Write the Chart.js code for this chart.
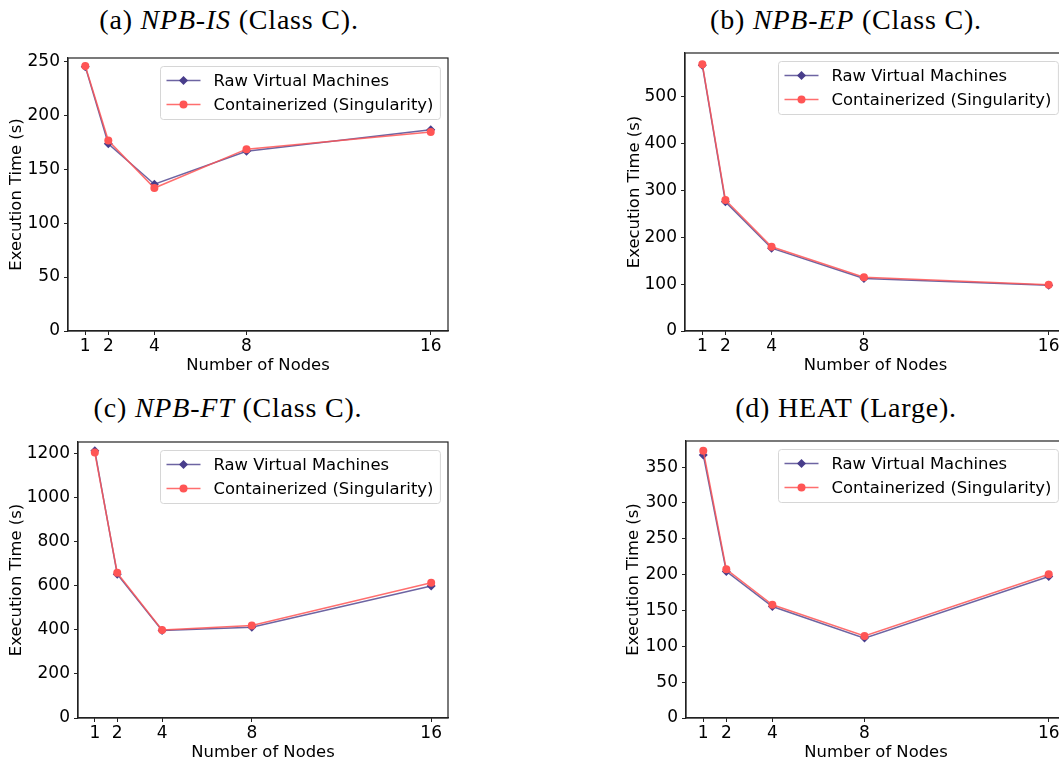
<!DOCTYPE html>
<html lang="en">
<head>
  <meta charset="UTF-8" />
  <title>Execution time: raw VMs vs Singularity</title>
  <script src="https://cdn.jsdelivr.net/npm/chart.js"></script>
  <style>
    html, body { margin: 0; padding: 0; background: #fff; }
    body { width: 1059px; height: 762px; position: relative; overflow: hidden; }
    .title {
      position: absolute; width: 420px; text-align: center;
      font-family: "Liberation Serif", "DejaVu Serif", serif;
      font-size: 28px; letter-spacing: 0.8px; line-height: 28px; color: #000; white-space: nowrap;
    }
    canvas { position: absolute; }
  </style>
</head>
<body>

  <!-- Panel titles -->
  <div class="title" id="titleA">(a) <i>NPB-IS</i> (Class C).</div>
  <div class="title" id="titleB">(b) <i>NPB-EP</i> (Class C).</div>
  <div class="title" id="titleC">(c) <i>NPB-FT</i> (Class C).</div>
  <div class="title" id="titleD">(d) HEAT (Large).</div>

  <canvas id="chartA"></canvas>
  <canvas id="chartB"></canvas>
  <canvas id="chartC"></canvas>
  <canvas id="chartD"></canvas>

  <script>
    // ---- data ----
    const nodes = [1, 2, 4, 8, 16];
    const seriesNames = ['Raw Virtual Machines', 'Containerized (Singularity)'];

    const isRaw  = [245, 173.5, 136, 166.5, 186.5];
    const isCont = [245.5, 176.5, 132.5, 168.5, 184.5];

    const epRaw  = [568, 276, 177, 112, 98];
    const epCont = [570, 280, 180, 115, 99];

    const ftRaw  = [1213, 653, 397, 412, 599];
    const ftCont = [1205, 659, 400, 420, 614];

    const heatRaw  = [367, 204.5, 155.5, 111.5, 197.5];
    const heatCont = [373, 207.5, 158, 114.5, 200.5];

    const isTicks   = [0, 50, 100, 150, 200, 250];
    const epTicks   = [0, 100, 200, 300, 400, 500];
    const ftTicks   = [0, 200, 400, 600, 800, 1000, 1200];
    const heatTicks = [0, 50, 100, 150, 200, 250, 300, 350];
    const yMaxes = [253, 594, 1253, 386.5];

    // ---- styling ----
    const rawColor = '#483D8B';
    const contColor = '#FF5555';
    const tickFont = { family: 'DejaVu Sans', size: 17 };
    const labelFont = { family: 'DejaVu Sans', size: 16.4, lineHeight: 1.2 };

    // plot areas on the page (left, top, right, bottom), y-title centre x, title centre
    const panels = [
      { id: 'chartA', title: 'titleA', area: [68, 58, 448, 331],   yTitleX: 17,  titleX: 229, titleY: 20,  raw: isRaw,   cont: isCont,   ticks: isTicks },
      { id: 'chartB', title: 'titleB', area: [685, 53, 1066, 331], yTitleX: 635, titleX: 846, titleY: 20,  raw: epRaw,   cont: epCont,   ticks: epTicks },
      { id: 'chartC', title: 'titleC', area: [78, 442, 448, 718],  yTitleX: 17,  titleX: 228, titleY: 408, raw: ftRaw,   cont: ftCont,   ticks: ftTicks },
      { id: 'chartD', title: 'titleD', area: [686, 441, 1066, 718], yTitleX: 634, titleX: 846, titleY: 408, raw: heatRaw, cont: heatCont, ticks: heatTicks }
    ];

    // top/right spines
    const framePlugin = {
      id: 'frame',
      afterDatasetsDraw(chart) {
        const { ctx, chartArea: a } = chart;
        ctx.save();
        ctx.strokeStyle = '#222';
        ctx.lineWidth = 1.2;
        ctx.strokeRect(a.left, a.top, a.right - a.left, a.bottom - a.top);
        ctx.restore();
      }
    };

    function drawMarker(ctx, style, x, y, r, color) {
      ctx.fillStyle = color;
      ctx.beginPath();
      if (style === 'rectRot') {
        ctx.moveTo(x, y - r); ctx.lineTo(x + r, y); ctx.lineTo(x, y + r); ctx.lineTo(x - r, y);
        ctx.closePath();
      } else {
        ctx.arc(x, y, r, 0, Math.PI * 2);
      }
      ctx.fill();
    }

    // matplotlib-like legend in the upper right corner
    const legendPlugin = {
      id: 'mplLegend',
      afterDraw(chart) {
        const { ctx, chartArea: a } = chart;
        ctx.save();
        ctx.font = '16.4px "DejaVu Sans"';
        const textW = Math.max(...seriesNames.map(n => ctx.measureText(n).width));
        const w = 6 + 34 + 13 + textW + 7;
        const h = 53;
        const x = Math.round(a.right - 8 - w) + 0.5, y = Math.round(a.top + 8) + 0.5;
        ctx.beginPath();
        ctx.roundRect(x, y, w, h, 3);
        ctx.fillStyle = 'rgba(255,255,255,0.8)';
        ctx.fill();
        ctx.strokeStyle = '#d6d6d6';
        ctx.lineWidth = 1;
        ctx.stroke();

        const entries = [chart.data.datasets[1], chart.data.datasets[0]];
        entries.forEach((ds, i) => {
          const ry = y + 14 + i * 24;
          ctx.strokeStyle = ds.borderColor;
          ctx.lineWidth = ds.borderWidth;
          ctx.beginPath();
          ctx.moveTo(x + 6, ry); ctx.lineTo(x + 40, ry);
          ctx.stroke();
          drawMarker(ctx, ds.pointStyle, x + 23, ry, ds.pointRadius, ds.pointBackgroundColor);
          ctx.fillStyle = '#000';
          ctx.textBaseline = 'middle';
          ctx.fillText(ds.label, x + 53, ry + 1);
        });
        ctx.restore();
      }
    };

    function makeChart(p, yMax) {
      const [left, top, right, bottom] = p.area;
      const cLeft = p.yTitleX - 17;
      const cTop = top - 20;
      const cW = right + 10 - cLeft;
      const cH = bottom + 49 - cTop;
      const canvas = document.getElementById(p.id);
      canvas.width = cW; canvas.height = cH;
      canvas.style.left = cLeft + 'px';
      canvas.style.top = cTop + 'px';
      canvas.style.width = cW + 'px';
      canvas.style.height = cH + 'px';

      const t = document.getElementById(p.title);
      t.style.left = (p.titleX - 210) + 'px';
      t.style.top = (p.titleY - 14) + 'px';

      const yW = left - cLeft;

      new Chart(canvas.getContext('2d'), {
        type: 'line',
        data: {
          datasets: [
            {
              label: seriesNames[1],
              data: nodes.map((n, i) => ({ x: n, y: p.cont[i] })),
              borderColor: 'rgba(255,85,85,0.85)',
              borderWidth: 1.5,
              pointStyle: 'circle',
              pointRadius: 4,
              pointBackgroundColor: contColor,
              pointBorderWidth: 0,
              tension: 0,
              order: 0
            },
            {
              label: seriesNames[0],
              data: nodes.map((n, i) => ({ x: n, y: p.raw[i] })),
              borderColor: 'rgba(72,61,139,0.8)',
              borderWidth: 1.5,
              pointStyle: 'rectRot',
              pointRadius: 4.5,
              pointBackgroundColor: rawColor,
              pointBorderWidth: 0,
              tension: 0,
              order: 1
            }
          ]
        },
        options: {
          responsive: false,
          animation: false,
          devicePixelRatio: 1,
          layout: { padding: { left: 0, top: 20, right: 10, bottom: 0 } },
          plugins: { legend: { display: false }, tooltip: { enabled: false } },
          scales: {
            x: {
              type: 'linear',
              min: 0.25,
              max: 16.75,
              afterBuildTicks: s => { s.ticks = nodes.map(v => ({ value: v })); },
              afterFit: s => { s.height = 49; },
              grid: { drawOnChartArea: false, drawTicks: true, tickLength: 4, tickColor: '#222' },
              border: { display: true, color: '#222', width: 1.2 },
              ticks: { color: '#000', font: tickFont, padding: 1, maxRotation: 0, callback: v => String(v) },
              title: { display: true, text: 'Number of Nodes', color: '#000', font: labelFont, padding: { top: 0, bottom: 4 } }
            },
            y: {
              type: 'linear',
              min: 0,
              max: yMax,
              afterBuildTicks: s => { s.ticks = p.ticks.map(v => ({ value: v })); },
              afterFit: s => { s.width = yW; },
              grid: { drawOnChartArea: false, drawTicks: true, tickLength: 4, tickColor: '#222' },
              border: { display: true, color: '#222', width: 1.2 },
              ticks: { color: '#000', font: tickFont, padding: 4, callback: v => String(v) },
              title: { display: true, text: 'Execution Time (s)', color: '#000', font: labelFont, padding: { top: 7, bottom: 0 } }
            }
          }
        },
        plugins: [framePlugin, legendPlugin]
      });
    }

    panels.forEach((p, i) => makeChart(p, yMaxes[i]));
  </script>
</body>
</html>
